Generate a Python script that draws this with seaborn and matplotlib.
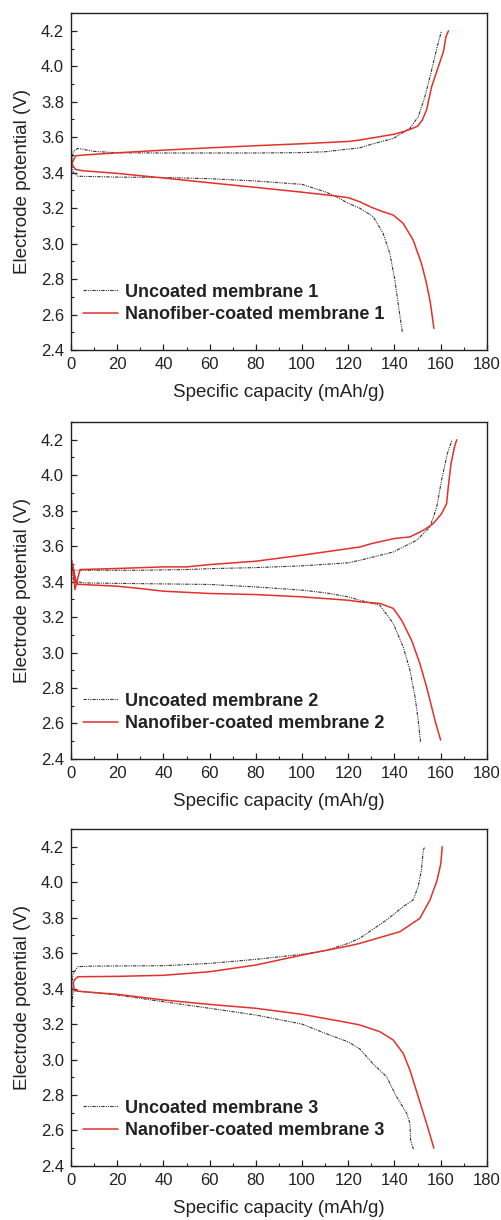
import numpy as np
import pandas as pd
import matplotlib
matplotlib.use("Agg")
import matplotlib.pyplot as plt
import seaborn as sns
from matplotlib.ticker import MultipleLocator

# ---- panel 1 ----
unc1_dis_x = [0.3, 1, 3, 20, 40, 60, 80, 100, 110, 115, 120, 125, 130.8, 135.1, 138, 140.2, 141.6, 143.4]
unc1_dis_y = [3.45, 3.40, 3.38, 3.375, 3.373, 3.366, 3.353, 3.334, 3.292, 3.264, 3.227, 3.20, 3.152, 3.058, 2.945, 2.795, 2.663, 2.503]
unc1_chg_x = [0.3, 1, 3, 10, 20, 40, 60, 80, 100, 110, 120, 125, 130, 139.5, 146.7, 150.3, 153.2, 156.1, 158.5, 160.4]
unc1_chg_y = [3.45, 3.52, 3.537, 3.52, 3.512, 3.511, 3.511, 3.511, 3.513, 3.518, 3.533, 3.54, 3.56, 3.593, 3.65, 3.715, 3.828, 3.978, 4.11, 4.2]
coat1_dis_x = [0.3, 2, 5, 20, 40, 60, 80, 100, 115, 120, 125, 130, 135, 139.5, 143.8, 148.1, 151.7, 153.9, 155.6, 157.1]
coat1_dis_y = [3.45, 3.418, 3.411, 3.396, 3.37, 3.343, 3.317, 3.29, 3.268, 3.259, 3.236, 3.205, 3.18, 3.161, 3.114, 3.02, 2.889, 2.776, 2.663, 2.522]
coat1_chg_x = [0.3, 2, 5, 20, 40, 60, 80, 100, 120, 125, 130, 140, 143.8, 147, 150, 152, 153.9, 156.1, 159, 161.2, 162.3, 163.4]
coat1_chg_y = [3.45, 3.495, 3.499, 3.512, 3.527, 3.54, 3.552, 3.563, 3.576, 3.584, 3.595, 3.617, 3.631, 3.645, 3.662, 3.695, 3.753, 3.884, 3.997, 4.082, 4.166, 4.2]

# ---- panel 2 ----
unc2_dis_x = [0.3, 1, 5, 20, 40, 60, 80, 100, 110, 120, 125, 133.7, 139.5, 143.8, 146.7, 148.9, 150.3, 151.3]
unc2_dis_y = [3.52, 3.408, 3.393, 3.39, 3.387, 3.384, 3.37, 3.352, 3.337, 3.314, 3.295, 3.267, 3.164, 3.032, 2.901, 2.751, 2.62, 2.497]
unc2_chg_x = [0.3, 1, 10, 30, 50, 60, 80, 100, 120, 125, 139.5, 149.6, 155.4, 158.3, 160.4, 162.9, 165]
unc2_chg_y = [3.52, 3.464, 3.464, 3.464, 3.468, 3.473, 3.479, 3.489, 3.506, 3.52, 3.567, 3.633, 3.708, 3.82, 3.971, 4.121, 4.2]
coat2_dis_x = [0.7, 2.2, 3, 20, 30, 40, 60, 80, 100, 120, 125, 133.7, 139.5, 143.1, 147.4, 151, 153.9, 156.1, 157.9, 160]
coat2_dis_y = [3.50, 3.398, 3.385, 3.374, 3.361, 3.346, 3.333, 3.327, 3.314, 3.295, 3.286, 3.277, 3.249, 3.183, 3.07, 2.939, 2.807, 2.694, 2.601, 2.507]
coat2_chg_x = [0.7, 1.7, 3.9, 20, 40, 50, 60, 80, 100, 120, 125, 130, 140, 146.7, 152.5, 156.8, 160.4, 162.6, 163.3, 164.5, 166, 167]
coat2_chg_y = [3.50, 3.355, 3.468, 3.474, 3.483, 3.483, 3.496, 3.515, 3.549, 3.586, 3.595, 3.614, 3.643, 3.652, 3.689, 3.727, 3.783, 3.84, 3.933, 4.065, 4.16, 4.2]

# ---- panel 3 ----
unc3_dis_x = [0.3, 1, 5, 20, 40, 60, 80, 100, 110, 120, 125, 130.8, 136.6, 140.9, 145.3, 146.7, 147, 148.2]
unc3_dis_y = [3.30, 3.392, 3.383, 3.364, 3.326, 3.289, 3.251, 3.20, 3.148, 3.10, 3.06, 2.975, 2.904, 2.791, 2.697, 2.641, 2.547, 2.494]
unc3_chg_x = [0.3, 0.5, 1, 3, 10, 40, 60, 80, 100, 110, 120, 125, 136.6, 143.8, 148.1, 150.3, 151.7, 152.5, 153]
unc3_chg_y = [3.30, 3.45, 3.486, 3.524, 3.527, 3.529, 3.542, 3.565, 3.593, 3.614, 3.655, 3.684, 3.787, 3.862, 3.90, 3.975, 4.069, 4.181, 4.195]
coat3_dis_x = [1, 1.5, 5, 20, 40, 60, 80, 100, 120, 125, 133.7, 139.5, 143.8, 146.7, 150.3, 153.9, 157.1]
coat3_dis_y = [3.43, 3.388, 3.383, 3.368, 3.336, 3.311, 3.289, 3.255, 3.208, 3.195, 3.157, 3.11, 3.035, 2.941, 2.791, 2.641, 2.50]
coat3_chg_x = [1, 1.5, 3, 20, 40, 60, 80, 100, 120, 125, 130, 142.4, 151, 155.4, 158.5, 160.1, 160.7]
coat3_chg_y = [3.43, 3.45, 3.467, 3.469, 3.475, 3.495, 3.533, 3.589, 3.64, 3.655, 3.674, 3.721, 3.796, 3.90, 4.012, 4.106, 4.2]

panels = [
    (1, (unc1_dis_x, unc1_dis_y, unc1_chg_x, unc1_chg_y), (coat1_dis_x, coat1_dis_y, coat1_chg_x, coat1_chg_y)),
    (2, (unc2_dis_x, unc2_dis_y, unc2_chg_x, unc2_chg_y), (coat2_dis_x, coat2_dis_y, coat2_chg_x, coat2_chg_y)),
    (3, (unc3_dis_x, unc3_dis_y, unc3_chg_x, unc3_chg_y), (coat3_dis_x, coat3_dis_y, coat3_chg_x, coat3_chg_y)),
]

sns.set_theme(style="ticks")
plt.rcParams['font.family'] = ['Liberation Sans', 'DejaVu Sans']
plt.rcParams['text.color'] = '#222222'
plt.rcParams['axes.labelcolor'] = '#222222'

RED = '#e3302b'
BLACK = '#333333'

def curve(dis_x, dis_y, chg_x, chg_y):
    # discharge traced backwards, then charge, so the loop is one line
    x = list(dis_x[::-1]) + list(chg_x)
    y = list(dis_y[::-1]) + list(chg_y)
    return pd.DataFrame({'cap': x, 'pot': y})

fig = plt.figure(figsize=(5.01, 12.2), dpi=100)
bottoms = [0.7131, 0.3779, 0.0443]

for (n, unc, coat), b in zip(panels, bottoms):
    ax = fig.add_axes([0.1417, b, 0.830, 0.2762])
    d_unc = curve(*unc)
    d_coat = curve(*coat)
    sns.lineplot(data=d_unc, x='cap', y='pot', sort=False, estimator=None, ax=ax,
                 color=BLACK, linewidth=0.8, linestyle=(0, (3, 1, 1, 1, 1, 1)),
                 label=f'Uncoated membrane {n}')
    sns.lineplot(data=d_coat, x='cap', y='pot', sort=False, estimator=None, ax=ax,
                 color=RED, linewidth=1.1, label=f'Nanofiber-coated membrane {n}')

    ax.set_xlim(0, 180)
    ax.set_ylim(2.4, 4.3)
    ax.xaxis.set_major_locator(MultipleLocator(20))
    ax.xaxis.set_minor_locator(MultipleLocator(10))
    ax.yaxis.set_major_locator(MultipleLocator(0.2))
    ax.yaxis.set_minor_locator(MultipleLocator(0.1))
    ax.set_yticks(np.arange(2.4, 4.21, 0.2))
    ax.tick_params(which='both', direction='in', top=False, right=False,
                   labelsize=12, colors='#222222', pad=5)
    ax.tick_params(which='major', length=4, width=0.9)
    ax.tick_params(which='minor', length=2.5, width=0.8)
    for s in ax.spines.values():
        s.set_color('#222222')
        s.set_linewidth(1.0)
    ax.set_xlabel('Specific capacity (mAh/g)', fontsize=13.5, labelpad=9)
    ax.set_ylabel('Electrode potential (V)', fontsize=13.5, labelpad=7)

    leg = ax.legend(loc='lower left', bbox_to_anchor=(0.03, 0.08), frameon=False,
                    borderpad=0, borderaxespad=0, handlelength=1.9, handletextpad=0.4,
                    labelspacing=0.3, prop={'weight': 'bold', 'size': 13})

fig.savefig('out.png', dpi=100)
